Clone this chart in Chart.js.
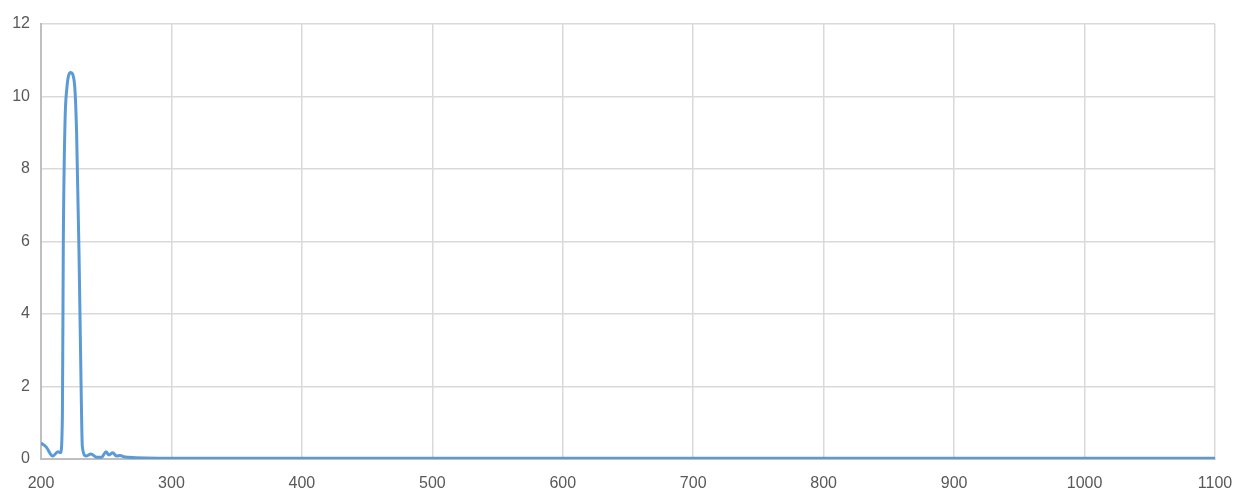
<!DOCTYPE html>
<html>
<head>
<meta charset="utf-8">
<script src="https://cdn.jsdelivr.net/npm/chart.js@4/dist/chart.umd.min.js"></script>
<style>
  html, body { margin: 0; padding: 0; background: #fff; }
  #wrap { width: 1236px; height: 496px; }
</style>
</head>
<body>
<div id="wrap"><canvas id="chart"></canvas></div>
<script>
var wavelengths = [200, 204, 209, 213, 215, 216.4, 217.1, 218.4, 219.7, 222.7, 225.5, 227.3, 229.1, 230.7, 231.7, 234.5, 238.3, 242.7, 246.5, 249.8, 252.1, 255, 258, 260.6, 263.7, 267, 280, 300, 400, 500, 600, 700, 800, 900, 1000, 1100];
var values = [0.44, 0.33, 0.08, 0.2, 0.17, 1.17, 5.96, 9.27, 10.18, 10.66, 10.41, 8.99, 5.77, 2.1, 0.34, 0.08, 0.14, 0.05, 0.05, 0.2, 0.11, 0.17, 0.08, 0.1, 0.06, 0.05, 0.03, 0.02, 0.02, 0.02, 0.02, 0.02, 0.02, 0.02, 0.02, 0.02];

var xMin = 200, xMax = 1100, xStep = 100;
var yMin = 0, yMax = 12, yStep = 2;

var points = [];
for (var i = 0; i < wavelengths.length; i++) {
  points.push({ x: wavelengths[i], y: values[i] });
}

var ctx = document.getElementById('chart').getContext('2d');
var myChart = new Chart(ctx, {
  type: 'line',
  data: {
    datasets: [
      {
        data: points,
        borderColor: '#5b9bd5',
        borderWidth: 3,
        pointRadius: 0,
        cubicInterpolationMode: 'monotone',
        fill: false
      }
    ]
  },
  options: {
    responsive: true,
    maintainAspectRatio: false,
    animation: false,
    layout: {
      padding: { left: 0, right: 21, top: 24, bottom: 0 }
    },
    plugins: {
      legend: { display: false },
      tooltip: { enabled: false }
    },
    scales: {
      x: {
        type: 'linear',
        min: xMin,
        max: xMax,
        grid: { color: '#d9d9d9', lineWidth: 1.5, drawTicks: false },
        border: { color: '#bfbfbf', width: 2 },
        ticks: {
          stepSize: xStep,
          padding: 15,
          color: '#595959',
          font: { family: 'Liberation Sans', size: 16 },
          callback: function (v) { return String(v); }
        },
        afterFit: function (scale) {
          scale.height = 37;
          // let the end labels hang past the plot like the original
          scale.paddingLeft = 0;
          scale.paddingRight = 0;
        }
      },
      y: {
        min: yMin,
        max: yMax,
        grid: { color: '#d9d9d9', lineWidth: 1.5, drawTicks: false },
        border: { color: '#bfbfbf', width: 2 },
        ticks: {
          stepSize: yStep,
          padding: 11,
          color: '#595959',
          font: { family: 'Liberation Sans', size: 16 }
        },
        afterFit: function (scale) { scale.width = 41; }
      }
    }
  }
});
</script>
</body>
</html>
